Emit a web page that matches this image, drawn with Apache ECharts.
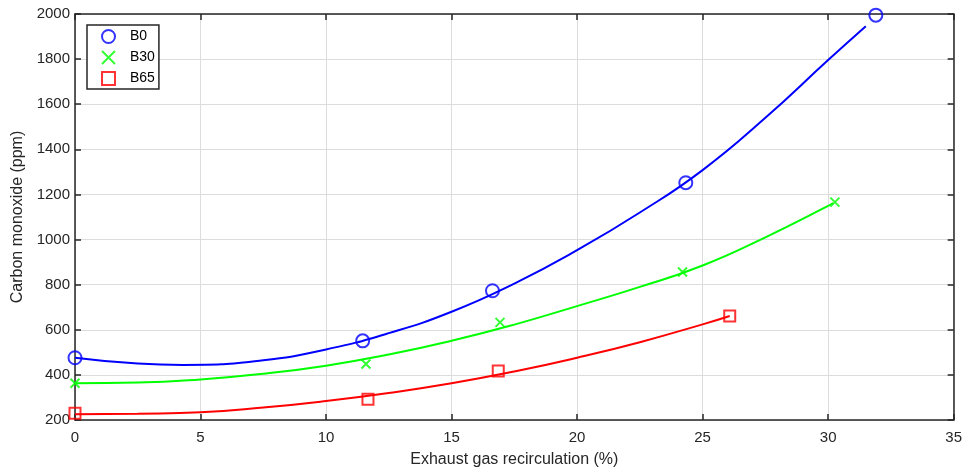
<!DOCTYPE html>
<html><head><meta charset="utf-8">
<script src="https://cdn.jsdelivr.net/npm/echarts@6/dist/echarts.min.js"></script>
<style>html,body{margin:0;padding:0;background:#fff}#c{width:965px;height:473px}</style>
</head><body><div id="c"></div>
<script>
// Measured points
const b0Points  = [[0, 476], [11.46, 551], [16.63, 773], [24.33, 1252], [31.9, 1995]];
const b30Points = [[0, 363], [11.59, 448], [16.93, 633], [24.2, 856], [30.27, 1166]];
const b65Points = [[0, 230], [11.67, 292], [16.86, 417], [26.08, 661]];
// Fitted curves
const b0Fit  = [[0, 476], [2.5, 450], [4.3, 444], [7.5, 465], [10, 513], [12.5, 585], [15, 680], [17.5, 805], [20, 953], [22.5, 1120], [25, 1308], [27.5, 1540], [30, 1796], [31.5, 1946]];
const b30Fit = [[0, 363], [2.5, 366], [5, 380], [7.5, 405], [10, 441], [12.5, 490], [15, 551], [17.5, 623], [20, 705], [22.5, 790], [25, 885], [27.5, 1010], [30, 1149], [30.2, 1162]];
const b65Fit = [[0, 225], [2.5, 228], [5, 234], [7.5, 255], [10, 284], [12.5, 320], [15, 363], [17.5, 415], [20, 476], [22.5, 545], [25, 624], [26.08, 661]];
const xTicks = {min: 0, max: 35, interval: 5};
const yTicks = {min: 200, max: 2000, interval: 200};

const txt = '#262626';
const font = 'Liberation Sans, Arial, sans-serif';
const xPath = 'path://M0,0L10,10M10,0L0,10';
const chart = echarts.init(document.getElementById('c'));
function line() { return {show: true, onZero: false, lineStyle: {color: txt, width: 1.5}}; }
function tick() { return {show: true, inside: true, length: 6, lineStyle: {color: txt, width: 1.5}}; }
const grid = {color: '#dcdcdc', width: 1};
chart.setOption({
  animation: false,
  grid: {left: 75, right: 11, top: 14, bottom: 53},
  legend: {
    left: 87, top: 25, orient: 'vertical', itemGap: 6, itemWidth: 13, itemHeight: 13,
    borderColor: '#262626', borderWidth: 1.5, padding: [4, 4, 3, 14],
    backgroundColor: '#fff',
    textStyle: {fontFamily: font, fontSize: 14, color: '#000', padding: [0, 0, 0, 10]},
    data: ['B0', 'B30', 'B65']
  },
  xAxis: [
    {type: 'value', min: xTicks.min, max: xTicks.max, interval: xTicks.interval,
      name: 'Exhaust gas recirculation (%)', nameLocation: 'middle', nameGap: 32,
      nameTextStyle: {fontFamily: font, fontSize: 16, color: txt},
      axisLine: line(), axisTick: tick(),
      axisLabel: {fontFamily: font, fontSize: 15, color: txt, margin: 10},
      splitLine: {show: true, lineStyle: grid}},
    {type: 'value', position: 'top', min: xTicks.min, max: xTicks.max, interval: xTicks.interval,
      axisLine: line(), axisTick: tick(), axisLabel: {show: false}, splitLine: {show: false}}
  ],
  yAxis: [
    {type: 'value', min: yTicks.min, max: yTicks.max, interval: yTicks.interval,
      name: 'Carbon monoxide (ppm)', nameLocation: 'middle', nameGap: 43,
      nameTextStyle: {fontFamily: font, fontSize: 16, color: txt},
      axisLine: line(), axisTick: tick(),
      axisLabel: {fontFamily: font, fontSize: 15, color: txt, margin: 5, formatter: v => String(v)},
      splitLine: {show: true, lineStyle: grid}},
    {type: 'value', position: 'right', min: yTicks.min, max: yTicks.max, interval: yTicks.interval,
      axisLine: line(), axisTick: tick(), axisLabel: {show: false}, splitLine: {show: false}}
  ],
  series: [
    {type: 'line', data: b0Fit, smooth: true, showSymbol: false, symbol: 'none', lineStyle: {color: '#0000ff', width: 2}, z: 2},
    {type: 'line', data: b30Fit, smooth: true, showSymbol: false, symbol: 'none', lineStyle: {color: '#00ff00', width: 2}, z: 2},
    {type: 'line', data: b65Fit, smooth: true, showSymbol: false, symbol: 'none', lineStyle: {color: '#ff0000', width: 2}, z: 2},
    {name: 'B0', type: 'scatter', data: b0Points, symbol: 'circle', symbolSize: 13,
      itemStyle: {color: 'rgba(0,0,0,0)', borderColor: '#0000ff', borderWidth: 2}, z: 3},
    {name: 'B30', type: 'scatter', data: b30Points, symbol: xPath, symbolSize: 9,
      itemStyle: {color: 'rgba(0,0,0,0)', borderColor: '#00ff00', borderWidth: 2}, z: 3},
    {name: 'B65', type: 'scatter', data: b65Points, symbol: 'rect', symbolSize: 11,
      itemStyle: {color: 'rgba(0,0,0,0)', borderColor: '#ff0000', borderWidth: 2}, z: 3}
  ]
});
</script></body></html>
